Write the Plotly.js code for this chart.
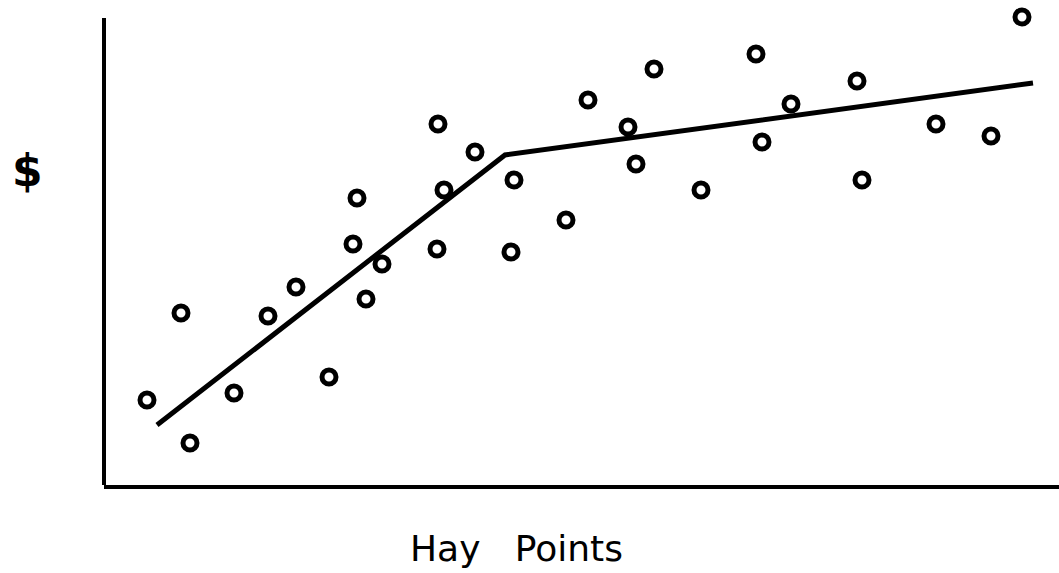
<!DOCTYPE html>
<html>
<head>
<meta charset="utf-8">
<script src="https://cdn.plot.ly/plotly-3.0.1.min.js"></script>
<style>html,body{margin:0;padding:0;background:#fff;}#chart{width:1059px;height:573px;}</style>
</head>
<body>
<div id="chart"></div>
<script>
// Hay points (x) vs salary $ (y), arbitrary units
const hayPoints = [43, 77, 86, 130, 164, 192, 225, 249, 253, 262, 278, 334, 340, 333, 371, 410, 407, 462, 484, 524, 532, 550, 597, 652, 658, 687, 753, 758, 832, 887, 918];
const salary    = [85, 172, 42, 92, 169, 198, 108, 241, 287, 186, 221, 361, 295, 236, 333, 305, 233, 265, 385, 358, 321, 416, 295, 431, 343, 381, 404, 305, 361, 349, 468];
// Piecewise salary line
const lineX = [53, 401, 929];
const lineY = [60, 330, 402];

const traces = [
  {
    x: lineX, y: lineY, type: 'scatter', mode: 'lines',
    line: {color: '#000', width: 5}, hoverinfo: 'skip'
  },
  {
    x: hayPoints, y: salary, type: 'scatter', mode: 'markers',
    marker: {symbol: 'circle', size: 14, color: '#fff', line: {color: '#000', width: 5}}
  }
];

const layout = {
  width: 1059, height: 573,
  margin: {l: 104, r: 0, t: 0, b: 88},
  paper_bgcolor: '#fff', plot_bgcolor: '#fff',
  showlegend: false,
  xaxis: {range: [0, 955], showgrid: false, zeroline: false, showticklabels: false, ticks: '',
          showline: true, linecolor: '#000', linewidth: 4},
  yaxis: {range: [0, 485], showgrid: false, zeroline: false, showticklabels: false, ticks: '',
          showline: false},
  shapes: [
    {type: 'line', xref: 'paper', yref: 'y', x0: 0, x1: 0, y0: 0, y1: 467,
     line: {color: '#000', width: 4}}
  ],
  annotations: [
    {text: '<b>$</b>', xref: 'paper', yref: 'paper', x: -0.0796, y: 0.649, showarrow: false,
     xanchor: 'center', yanchor: 'middle', font: {family: 'DejaVu Sans', size: 44, color: '#000'}},
    {text: 'Hay&nbsp;&nbsp;&nbsp;Points', xref: 'paper', yref: 'paper', x: 0.432, y: -0.13, showarrow: false,
     xanchor: 'center', yanchor: 'middle', font: {family: 'DejaVu Sans', size: 36, color: '#000'}}
  ]
};

Plotly.newPlot('chart', traces, layout, {displayModeBar: false, staticPlot: true});
</script>
</body>
</html>
